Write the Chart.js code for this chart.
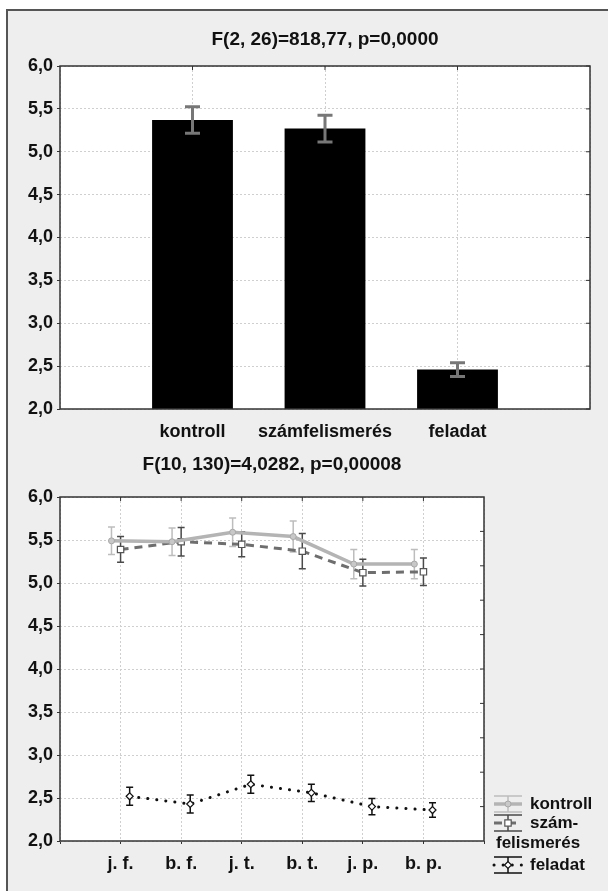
<!DOCTYPE html>
<html lang="hu">
<head>
  <meta charset="UTF-8">
  <title>F-próbák</title>
  <script src="https://cdn.jsdelivr.net/npm/chart.js"></script>
  <style>
    body { margin: 0; background: #fff; overflow: hidden; font-family: "Liberation Sans", Arial, sans-serif; }
    #frame { position: absolute; left: 6px; top: 9px; width: 640px; height: 920px; border: 2px solid #555; background: #eeeeee; }
    canvas { position: absolute; left: 0; }
    #barChart { top: 0; }
    #lineChart { top: 450px; }
  </style>
</head>
<body>

<div id="frame"></div>
<canvas id="barChart" width="608" height="450"></canvas>
<canvas id="lineChart" width="608" height="441"></canvas>

<script>
// top chart: group means with error bars
const groups = ['kontroll', 'számfelismerés', 'feladat'];
const groupMeans = [5.37, 5.27, 2.46];
const groupErr = [0.155, 0.155, 0.08];

// bottom chart: condition x group
const periods = ['j. f.', 'b. f.', 'j. t.', 'b. t.', 'j. p.', 'b. p.'];
const kontrollMean = [5.49, 5.48, 5.59, 5.54, 5.22, 5.22];
const kontrollErr = [0.16, 0.16, 0.165, 0.18, 0.17, 0.17];
const szamMean = [5.39, 5.48, 5.45, 5.37, 5.12, 5.13];
const szamErr = [0.15, 0.165, 0.145, 0.205, 0.155, 0.16];
const feladatMean = [2.52, 2.43, 2.66, 2.56, 2.40, 2.36];
const feladatErr = [0.105, 0.105, 0.105, 0.10, 0.095, 0.085];

const yTicks = [2.0, 2.5, 3.0, 3.5, 4.0, 4.5, 5.0, 5.5, 6.0];
const titles = ['F(2, 26)=818,77, p=0,0000', 'F(10, 130)=4,0282, p=0,00008'];
const legendLines = [['kontroll'], ['szám-', 'felismerés'], ['feladat']];

const FONT = '"Liberation Sans", Arial, sans-serif';
const tickFont = { family: FONT, size: 18, weight: 'bold' };
const fmt = v => Number(v).toFixed(1).replace('.', ',');

// white plot area, dark frame, inward ticks, title centred over the plot
const plotFrame = {
  id: 'plotFrame',
  beforeDraw(chart) {
    const a = chart.chartArea, ctx = chart.ctx;
    ctx.save();
    ctx.fillStyle = '#fff';
    ctx.fillRect(a.left, a.top, a.right - a.left, a.bottom - a.top);
    ctx.restore();
  },
  afterDraw(chart, args, opts) {
    const a = chart.chartArea, ctx = chart.ctx;
    ctx.save();
    ctx.strokeStyle = '#333';
    ctx.lineWidth = 1.5;
    ctx.strokeRect(a.left, a.top, a.right - a.left, a.bottom - a.top);
    ctx.lineWidth = 1;
    ctx.beginPath();
    const xs = chart.scales.x;
    xs.ticks.forEach((t, i) => {
      const px = xs.getPixelForTick(i);
      if (px > a.left + 2 && px < a.right - 2) { ctx.moveTo(px, a.top); ctx.lineTo(px, a.top + 4); }
    });
    const n = opts.rightDivs;
    if (n) {
      for (let k = 1; k < n; k++) {
        const py = a.top + (a.bottom - a.top) * k / n;
        ctx.moveTo(a.right - 4, py); ctx.lineTo(a.right, py);
      }
    } else {
      const ys = chart.scales.y;
      ys.ticks.forEach((t, i) => {
        const py = ys.getPixelForTick(i);
        ctx.moveTo(a.right - 4, py); ctx.lineTo(a.right, py);
      });
    }
    ctx.stroke();

    ctx.fillStyle = '#111';
    ctx.font = 'bold 19px ' + FONT;
    ctx.textAlign = 'center';
    ctx.textBaseline = 'middle';
    ctx.fillText(opts.title, (a.left + a.right) / 2, a.top - opts.titleGap);
    ctx.restore();
  }
};

function drawErrors(chart, below) {
  const ctx = chart.ctx, ys = chart.scales.y;
  chart.data.datasets.forEach((ds, di) => {
    if (!ds.errors || !!ds.errorBelow !== below) return;
    const meta = chart.getDatasetMeta(di);
    ctx.save();
    ctx.strokeStyle = ds.errorColor;
    ctx.lineWidth = ds.errorWidth;
    ctx.setLineDash([]);
    ctx.beginPath();
    meta.data.forEach((el, i) => {
      const raw = ds.data[i];
      const v = (raw && typeof raw === 'object') ? raw.y : raw;
      if (v == null) return;
      const t = ys.getPixelForValue(v + ds.errors[i]);
      const b = ys.getPixelForValue(v - ds.errors[i]);
      const h = ds.capHalf;
      ctx.moveTo(el.x, t); ctx.lineTo(el.x, b);
      ctx.moveTo(el.x - h, t); ctx.lineTo(el.x + h, t);
      ctx.moveTo(el.x - h, b); ctx.lineTo(el.x + h, b);
    });
    ctx.stroke();
    ctx.restore();
  });
}

const errorBars = {
  id: 'errorBars',
  beforeDatasetsDraw(chart) { drawErrors(chart, true); },
  afterDatasetsDraw(chart) { drawErrors(chart, false); }
};

// legend with line + error bar symbol
const sideLegend = {
  id: 'sideLegend',
  afterDraw(chart) {
    const a = chart.chartArea, ctx = chart.ctx;
    const rows = [a.bottom - 37, a.bottom - 18, a.bottom + 24];
    const x0 = a.right + 10, x1 = a.right + 38, xc = (x0 + x1) / 2;
    ctx.save();
    chart.data.datasets.forEach((ds, i) => {
      const y = rows[i];
      ctx.strokeStyle = ds.errorColor;
      ctx.lineWidth = 1.5;
      ctx.setLineDash([]);
      ctx.beginPath();
      ctx.moveTo(x0, y - 8); ctx.lineTo(x1, y - 8);
      ctx.moveTo(x0, y + 8); ctx.lineTo(x1, y + 8);
      ctx.moveTo(xc, y - 8); ctx.lineTo(xc, y + 8);
      ctx.stroke();
      ctx.strokeStyle = ds.borderColor;
      ctx.lineWidth = ds.borderWidth;
      ctx.lineCap = ds.borderCapStyle || 'butt';
      ctx.setLineDash(ds.borderDash || []);
      ctx.beginPath();
      ctx.moveTo(x0, y); ctx.lineTo(x1, y);
      ctx.stroke();
      ctx.lineCap = 'butt';
      ctx.setLineDash([]);
      ctx.fillStyle = ds.pointBackgroundColor;
      ctx.strokeStyle = ds.pointBorderColor;
      ctx.lineWidth = ds.pointBorderWidth;
      Chart.helpers.drawPoint(ctx, {
        pointStyle: ds.pointStyle, radius: ds.pointRadius, borderWidth: ds.pointBorderWidth
      }, xc, y);

      ctx.fillStyle = '#111';
      ctx.font = 'bold 17px ' + FONT;
      ctx.textBaseline = 'middle';
      const lines = legendLines[i];
      ctx.fillText(lines[0], a.right + 46, y);
      if (lines[1]) ctx.fillText(lines[1], a.right + 12, y + 20);
    });
    ctx.restore();
  }
};

const gridColor = '#cfcfcf';

new Chart(document.getElementById('barChart'), {
  type: 'bar',
  data: {
    labels: ['', ...groups, ''],
    datasets: [{
      data: [null, ...groupMeans, null],
      errors: [0, ...groupErr, 0],
      errorColor: '#777',
      errorWidth: 3,
      capHalf: 7.5,
      backgroundColor: '#000',
      borderWidth: 0,
      categoryPercentage: 1,
      barPercentage: 0.61
    }]
  },
  options: {
    responsive: false,
    animation: false,
    layout: { padding: { left: 0, right: 18, top: 66, bottom: 0 } },
    plugins: {
      legend: { display: false },
      tooltip: { enabled: false },
      title: { display: false },
      plotFrame: { title: titles[0], titleGap: 26 }
    },
    scales: {
      x: {
        offset: false,
        grid: { offset: false, color: gridColor, drawTicks: false },
        border: { display: false, dash: [2, 2] },
        ticks: { font: tickFont, color: '#111', padding: 12, autoSkip: false, maxRotation: 0 },
        afterFit: s => { s.height = 41; }
      },
      y: {
        min: 2, max: 6,
        afterBuildTicks: s => { s.ticks = yTicks.map(v => ({ value: v })); },
        ticks: { font: tickFont, color: '#111', padding: 4, callback: fmt },
        grid: { color: gridColor, tickColor: '#333', tickLength: 3 },
        border: { display: false, dash: [2, 2] },
        afterFit: s => { s.width = 60; }
      }
    }
  },
  plugins: [plotFrame, errorBars]
});

const xy = (arr, shift) => arr.map((v, i) => ({ x: i + 1 + shift, y: v }));

new Chart(document.getElementById('lineChart'), {
  type: 'line',
  data: {
    datasets: [
      {
        label: 'kontroll',
        data: xy(kontrollMean, -0.15),
        errors: kontrollErr, errorColor: '#bdbdbd', errorWidth: 1.5, capHalf: 3.5, errorBelow: true,
        borderColor: '#b4b4b4', borderWidth: 3.5,
        pointStyle: 'circle', pointRadius: 3, pointBorderWidth: 1,
        pointBackgroundColor: '#c8c8c8', pointBorderColor: '#a8a8a8'
      },
      {
        label: 'számfelismerés',
        data: xy(szamMean, 0),
        errors: szamErr, errorColor: '#4a4a4a', errorWidth: 1.5, capHalf: 3.5, errorBelow: true,
        borderColor: '#6e6e6e', borderWidth: 3, borderDash: [8, 6],
        pointStyle: 'rect', pointRadius: 4.5, pointBorderWidth: 1.2,
        pointBackgroundColor: '#fff', pointBorderColor: '#555'
      },
      {
        label: 'feladat',
        data: xy(feladatMean, 0.15),
        errors: feladatErr, errorColor: '#111', errorWidth: 1.5, capHalf: 3.5, errorBelow: true,
        borderColor: '#111', borderWidth: 3, borderDash: [0.1, 9], borderCapStyle: 'round',
        pointStyle: 'rectRot', pointRadius: 3.5, pointBorderWidth: 1.2,
        pointBackgroundColor: '#fff', pointBorderColor: '#111'
      }
    ]
  },
  options: {
    responsive: false,
    animation: false,
    layout: { padding: { left: 0, right: 124, top: 47, bottom: 0 } },
    plugins: {
      legend: { display: false },
      tooltip: { enabled: false },
      title: { display: false },
      plotFrame: { title: titles[1], titleGap: 32, rightDivs: 10 }
    },
    scales: {
      x: {
        type: 'linear', min: 0, max: periods.length + 1,
        afterBuildTicks: s => { s.ticks = Array.from({ length: periods.length + 2 }, (_, i) => ({ value: i })); },
        ticks: { font: tickFont, color: '#111', padding: 9, autoSkip: false, maxRotation: 0,
                 callback: v => periods[v - 1] || '' },
        grid: { color: gridColor, tickColor: '#333', tickLength: 3 },
        border: { display: false, dash: [2, 2] },
        afterFit: s => { s.height = 50; }
      },
      y: {
        min: 2, max: 6,
        afterBuildTicks: s => { s.ticks = yTicks.map(v => ({ value: v })); },
        ticks: { font: tickFont, color: '#111', padding: 4, callback: fmt },
        grid: { color: gridColor, tickColor: '#333', tickLength: 3 },
        border: { display: false, dash: [2, 2] },
        afterFit: s => { s.width = 60; }
      }
    }
  },
  plugins: [plotFrame, errorBars, sideLegend]
});
</script>

</body>
</html>
